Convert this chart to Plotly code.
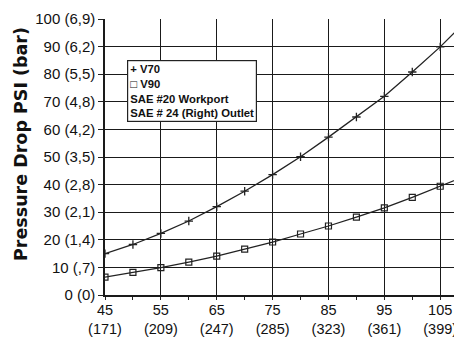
import plotly.graph_objects as go

flow_gpm = [45, 50, 55, 60, 65, 70, 75, 80, 85, 90, 95, 100, 105, 110]
v70_psi = [15.0, 18.3, 22.3, 26.8, 32.0, 37.6, 43.6, 50.1, 57.2, 64.5, 72.0, 80.8, 89.9, 100.0]
v90_psi = [6.5, 8.2, 9.9, 11.9, 14.1, 16.6, 19.2, 22.1, 25.0, 28.2, 31.6, 35.4, 39.4, 43.5]

x_tickvals = [45, 55, 65, 75, 85, 95, 105]
x_ticktext = ["45<br>(171)", "55<br>(209)", "65<br>(247)", "75<br>(285)",
              "85<br>(323)", "95<br>(361)", "105<br>(399)"]
y_tickvals = [0, 10, 20, 30, 40, 50, 60, 70, 80, 90, 100]
y_ticktext = ["0 (0)", "10 (,7)", "20 (1,4)", "30 (2,1)", "40 (2,8)", "50 (3,5)",
              "60 (4,2)", "70 (4,8)", "80 (5,5)", "90 (6,2)", "100 (6,9)"]
y_title = "Pressure Drop PSI (bar)"
legend_lines = ["+ V70", "\u25a1 V90", "SAE #20 Workport", "SAE # 24 (Right) Outlet"]

FONT = "Liberation Sans, Arial, sans-serif"

fig = go.Figure()
fig.add_trace(go.Scatter(
    x=flow_gpm, y=v70_psi, mode="lines+markers", name="V70",
    line=dict(color="#222", width=1.3),
    marker=dict(symbol="cross-thin", size=6, line=dict(color="#222", width=1.3)),
))
fig.add_trace(go.Scatter(
    x=flow_gpm, y=v90_psi, mode="lines+markers", name="V90",
    line=dict(color="#222", width=1.3),
    marker=dict(symbol="square-open", size=6, color="#222", line=dict(width=1.2)),
))

fig.add_annotation(
    xref="paper", yref="paper", x=(127 - 105) / 357, y=(295 - 60) / 276,
    xanchor="left", yanchor="top", align="left",
    text="<br>".join("<b>" + s + "</b>" for s in legend_lines),
    showarrow=False, bgcolor="white", bordercolor="#222", borderwidth=1.2,
    borderpad=2, font=dict(family=FONT, size=11.3, color="#111"),
)

# y-axis title as rotated annotation (positioned like the reference)
fig.add_annotation(
    xref="paper", yref="paper", x=(21 - 105) / 357, y=(295 - 144) / 276,
    xanchor="center", yanchor="middle", textangle=-90,
    text="<b>" + y_title + "</b>", showarrow=False,
    font=dict(family="DejaVu Sans", size=17.5, color="#111"),
)

fig.update_layout(
    width=454, height=331,
    margin=dict(l=97, r=0, t=11, b=44),
    paper_bgcolor="white", plot_bgcolor="white",
    showlegend=False,
    font=dict(family=FONT, color="#111"),
    xaxis=dict(
        range=[45, 108.9], tickvals=x_tickvals, ticktext=x_ticktext,
        showgrid=True, gridcolor="#1a1a1a", gridwidth=1.2,
        showline=True, linecolor="#1a1a1a", linewidth=1.5,
        ticks="outside", ticklen=3, tickcolor="#222",
        minor=dict(dtick=5, tick0=45, ticks="outside", ticklen=3, tickcolor="#222", showgrid=False),
        tickfont=dict(size=14.5), zeroline=False, automargin=False,
        ticklabelstandoff=-2,
    ),
    yaxis=dict(
        range=[0, 100], tickvals=y_tickvals, ticktext=y_ticktext,
        showgrid=True, gridcolor="#1a1a1a", gridwidth=1.2,
        showline=True, linecolor="#1a1a1a", linewidth=1.5,
        ticks="outside", ticklen=5, tickcolor="#222",
        tickfont=dict(size=15), zeroline=False, automargin=False,
    ),
)

fig.write_html("out.html")
